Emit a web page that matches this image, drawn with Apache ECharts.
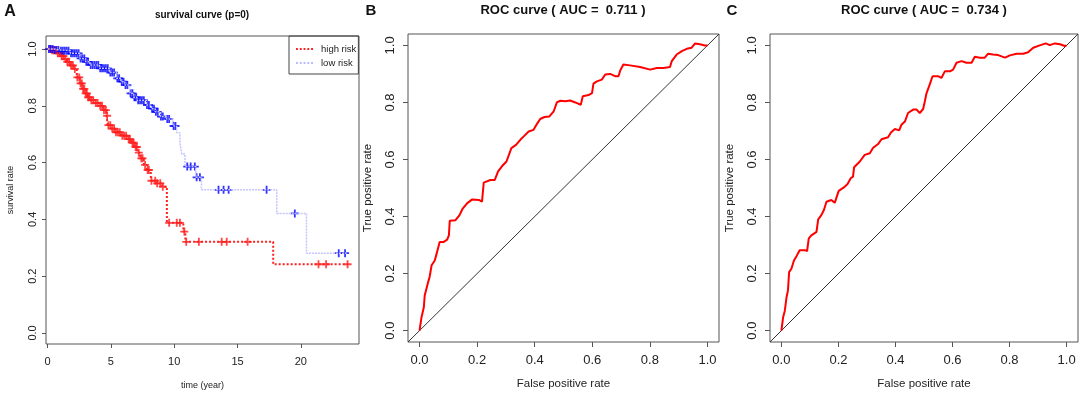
<!DOCTYPE html>
<html>
<head>
<meta charset="utf-8">
<script src="https://cdn.jsdelivr.net/npm/echarts@6/dist/echarts.min.js"></script>
<style>
html, body { margin: 0; padding: 0; background: #fff; }
#main { width: 1084px; height: 398px; }
</style>
</head>
<body>
<div id="main"></div>
<script>
// 生存曲线 - high risk (KM 阶梯点: 时间 / 生存率)
var highT = [0, 0.3, 0.7, 1.0, 1.3, 1.5, 1.8, 2.1, 2.3, 2.55, 2.75, 2.95, 3.15, 3.35, 3.7, 4.1, 4.4, 4.65, 4.75, 5.0, 5.3, 5.8, 6.3, 6.6, 6.85, 7.1, 7.3, 7.6, 7.85, 8.15, 8.6, 9.05, 9.42, 10.72, 10.88, 17.82, 23.74];
var highS = [1, 0.996, 0.985, 0.975, 0.965, 0.955, 0.942, 0.93, 0.9, 0.879, 0.86, 0.844, 0.83, 0.82, 0.81, 0.8, 0.785, 0.765, 0.732, 0.72, 0.707, 0.695, 0.683, 0.67, 0.655, 0.635, 0.615, 0.592, 0.574, 0.536, 0.527, 0.515, 0.388, 0.357, 0.321, 0.242, 0.242];
// 删失点 high risk
var highCensT = [0.2, 0.35, 0.5, 0.65, 0.8, 0.95, 1.1, 1.25, 1.4, 1.55, 1.7, 1.85, 2.0, 2.15, 2.35, 2.5, 2.6, 2.7, 2.8, 2.9, 3.0, 3.1, 3.2, 3.3, 3.45, 3.6, 3.8, 3.95, 4.15, 4.3, 4.45, 4.6, 4.7, 4.8, 4.95, 5.1, 5.25, 5.4, 5.55, 5.7, 5.9, 6.05, 6.2, 6.4, 6.5, 6.7, 6.8, 6.95, 7.05, 7.2, 7.4, 7.5, 7.7, 7.9, 8.0, 8.2, 8.5, 8.65, 8.9, 9.1, 9.6, 10.2, 10.45, 10.8, 10.95, 11.95, 13.75, 14.15, 15.8, 21.4, 22.0, 23.7];
var highCensS = [1, 0.996, 0.996, 0.996, 0.985, 0.985, 0.975, 0.975, 0.965, 0.955, 0.955, 0.942, 0.942, 0.93, 0.9, 0.9, 0.879, 0.879, 0.86, 0.86, 0.844, 0.844, 0.83, 0.83, 0.82, 0.82, 0.81, 0.81, 0.8, 0.8, 0.785, 0.785, 0.765, 0.732, 0.732, 0.72, 0.72, 0.707, 0.707, 0.707, 0.695, 0.695, 0.695, 0.683, 0.683, 0.67, 0.67, 0.655, 0.655, 0.635, 0.615, 0.615, 0.592, 0.574, 0.574, 0.536, 0.536, 0.527, 0.527, 0.515, 0.388, 0.388, 0.388, 0.357, 0.321, 0.321, 0.321, 0.321, 0.321, 0.242, 0.242, 0.242];

// 生存曲线 - low risk
var lowT = [0, 0.5, 1.0, 1.8, 2.55, 3.0, 3.35, 4.1, 4.9, 5.45, 5.8, 6.1, 6.5, 6.8, 7.05, 7.8, 8.2, 8.5, 8.9, 9.4, 9.9, 10.2, 10.45, 10.6, 10.85, 11.7, 12.15, 18.1, 20.45, 23.62];
var lowS = [1, 0.997, 0.994, 0.985, 0.967, 0.955, 0.944, 0.932, 0.917, 0.897, 0.885, 0.873, 0.844, 0.83, 0.82, 0.803, 0.79, 0.779, 0.762, 0.754, 0.729, 0.705, 0.668, 0.63, 0.586, 0.548, 0.504, 0.421, 0.281, 0.281];
// 删失点 low risk
var lowCensT = [0.1, 0.25, 0.4, 0.55, 0.7, 0.85, 1.05, 1.2, 1.35, 1.5, 1.65, 1.85, 2.0, 2.15, 2.3, 2.45, 2.6, 2.75, 2.9, 3.05, 3.2, 3.4, 3.55, 3.7, 3.85, 4.0, 4.15, 4.3, 4.45, 4.6, 4.75, 4.95, 5.1, 5.25, 5.5, 5.65, 5.85, 6.0, 6.15, 6.3, 6.55, 6.7, 6.85, 7.0, 7.15, 7.3, 7.45, 7.6, 7.85, 8.0, 8.25, 8.4, 8.55, 8.7, 8.95, 9.1, 9.45, 9.6, 9.95, 10.1, 11.03, 11.3, 11.63, 11.77, 12.03, 13.5, 13.9, 14.3, 17.3, 19.53, 23.0, 23.5];
var lowCensS = [1, 1, 1, 0.997, 0.997, 0.997, 0.994, 0.994, 0.994, 0.994, 0.994, 0.985, 0.985, 0.985, 0.985, 0.985, 0.967, 0.967, 0.967, 0.955, 0.955, 0.944, 0.944, 0.944, 0.944, 0.944, 0.932, 0.932, 0.932, 0.932, 0.932, 0.917, 0.917, 0.917, 0.897, 0.897, 0.885, 0.885, 0.873, 0.873, 0.844, 0.844, 0.83, 0.83, 0.82, 0.82, 0.82, 0.82, 0.803, 0.803, 0.79, 0.79, 0.779, 0.779, 0.762, 0.762, 0.754, 0.754, 0.729, 0.729, 0.586, 0.586, 0.586, 0.548, 0.548, 0.504, 0.504, 0.504, 0.504, 0.421, 0.281, 0.281];

// ROC B
var fprB = [0, 0.007, 0.015, 0.018, 0.024, 0.03, 0.035, 0.042, 0.053, 0.061, 0.07, 0.084, 0.096, 0.102, 0.105, 0.125, 0.139, 0.15, 0.165, 0.183, 0.206, 0.217, 0.223, 0.246, 0.261, 0.273, 0.287, 0.302, 0.319, 0.335, 0.35, 0.362, 0.379, 0.396, 0.408, 0.419, 0.434, 0.451, 0.466, 0.477, 0.489, 0.506, 0.523, 0.541, 0.56, 0.567, 0.587, 0.599, 0.604, 0.616, 0.633, 0.645, 0.662, 0.679, 0.691, 0.697, 0.708, 0.731, 0.766, 0.801, 0.824, 0.847, 0.87, 0.876, 0.893, 0.911, 0.928, 0.945, 0.957, 0.974, 0.991, 1.0];
var tprB = [0, 0.047, 0.082, 0.123, 0.129, 0.17, 0.188, 0.229, 0.246, 0.276, 0.311, 0.311, 0.319, 0.334, 0.385, 0.387, 0.405, 0.428, 0.446, 0.46, 0.458, 0.452, 0.519, 0.528, 0.528, 0.558, 0.577, 0.593, 0.64, 0.651, 0.669, 0.681, 0.698, 0.704, 0.725, 0.742, 0.749, 0.751, 0.769, 0.8, 0.806, 0.804, 0.807, 0.8, 0.792, 0.822, 0.826, 0.833, 0.866, 0.874, 0.88, 0.898, 0.9, 0.892, 0.892, 0.912, 0.933, 0.93, 0.924, 0.915, 0.921, 0.921, 0.924, 0.945, 0.968, 0.98, 0.988, 0.992, 1.007, 1.004, 1.0, 1.0];

// ROC C
var fprC = [0, 0.006, 0.012, 0.018, 0.023, 0.027, 0.035, 0.044, 0.053, 0.064, 0.082, 0.09, 0.096, 0.105, 0.123, 0.129, 0.14, 0.149, 0.158, 0.175, 0.187, 0.196, 0.201, 0.219, 0.232, 0.243, 0.251, 0.255, 0.275, 0.292, 0.31, 0.321, 0.339, 0.351, 0.374, 0.384, 0.398, 0.413, 0.421, 0.433, 0.444, 0.462, 0.474, 0.485, 0.497, 0.503, 0.509, 0.518, 0.53, 0.549, 0.561, 0.573, 0.591, 0.602, 0.614, 0.632, 0.649, 0.667, 0.678, 0.696, 0.713, 0.725, 0.742, 0.76, 0.784, 0.801, 0.825, 0.848, 0.865, 0.883, 0.906, 0.927, 0.941, 0.959, 0.977, 0.994, 1.0];
var tprC = [0, 0.047, 0.07, 0.117, 0.141, 0.205, 0.217, 0.246, 0.261, 0.282, 0.282, 0.279, 0.323, 0.334, 0.346, 0.39, 0.405, 0.423, 0.452, 0.458, 0.448, 0.475, 0.49, 0.502, 0.514, 0.534, 0.54, 0.573, 0.593, 0.616, 0.622, 0.64, 0.654, 0.671, 0.678, 0.695, 0.707, 0.702, 0.722, 0.733, 0.763, 0.775, 0.775, 0.763, 0.777, 0.804, 0.833, 0.857, 0.892, 0.892, 0.886, 0.909, 0.909, 0.915, 0.939, 0.945, 0.939, 0.939, 0.96, 0.957, 0.957, 0.971, 0.968, 0.966, 0.957, 0.965, 0.971, 0.971, 0.976, 0.992, 1.0, 1.007, 1.001, 1.007, 1.004, 0.998, 1.0];

// 对角线
var diagX = [-0.04, 1.04];
var diagY = [-0.04, 1.04];

// 刻度
var survTicks = [0, 5, 10, 15, 20];
var rateTicks = [0, 0.2, 0.4, 0.6, 0.8, 1.0];

var font = "'Liberation Sans', Arial, sans-serif";
var plus = "path://M0,5L10,5M5,0L5,10";
// 图例里的点线
var dotIcon = "path://M0,0H2V2H0ZM4,0H6V2H4ZM8,0H10V2H8ZM12,0H14V2H12ZM16,0H18V2H16Z";

function pairs(xs, ys) {
  return xs.map(function (x, i) { return [x, ys[i]]; });
}

function axis(gi, min, max, ticks, fmt, size, margin, rotate, name, nameSize, nameGap, tickLen) {
  return {
    gridIndex: gi,
    type: "value",
    min: min,
    max: max,
    splitLine: { show: false },
    axisLine: { show: false, onZero: false },
    axisTick: {
      show: true,
      inside: false,
      length: tickLen,
      customValues: ticks,
      lineStyle: { color: "#555", width: 1 },
    },
    axisLabel: {
      customValues: ticks,
      rotate: rotate,
      margin: margin,
      fontSize: size,
      fontFamily: font,
      color: "#222",
      formatter: fmt,
    },
    name: name,
    nameLocation: "middle",
    nameGap: nameGap,
    nameTextStyle: { fontSize: nameSize, fontFamily: font, color: "#222" },
  };
}

function f1(v) { return v.toFixed(1); }
function f0(v) { return String(v); }

function title(text, left, top, size) {
  return {
    text: text, left: left, top: top, padding: 0, textAlign: "center",
    textStyle: { fontFamily: font, color: "#111", fontWeight: "bold", fontSize: size },
  };
}

var myChart = echarts.init(document.getElementById("main"));

var option = {
  backgroundColor: "#fff",
  animation: false,
  title: [
    title("A", 10, 4, 16),
    title("survival curve (p=0)", 202, 10, 10),
    title("B", 371, 3, 15),
    title("ROC curve ( AUC =  0.711 )", 563, 4, 13),
    title("C", 732, 3, 15),
    title("ROC curve ( AUC =  0.734 )", 924, 4, 13),
  ],
  legend: {
    data: [
      { name: "high risk", icon: dotIcon },
      { name: "low risk", icon: dotIcon },
    ],
    orient: "vertical",
    left: 289,
    top: 36,
    padding: [8, 2, 6, 7],
    itemGap: 4,
    itemWidth: 17,
    itemHeight: 2,
    borderColor: "#444",
    borderWidth: 1,
    textStyle: { fontSize: 9.5, fontFamily: font, color: "#222", padding: [0, 0, 0, 3] },
  },
  grid: [
    { left: 46, top: 36, width: 313, height: 308, show: true, borderColor: "#555", borderWidth: 1 },
    { left: 408, top: 34, width: 311, height: 308, show: true, borderColor: "#555", borderWidth: 1 },
    { left: 770, top: 34, width: 308, height: 308, show: true, borderColor: "#555", borderWidth: 1 },
  ],
  xAxis: [
    axis(0, -0.13, 24.6, survTicks, f0, 11, 12, 0, "time (year)", 9, 37, 4),
    axis(1, -0.04, 1.04, rateTicks, f1, 13, 12, 0, "False positive rate", 11.5, 36, 5),
    axis(2, -0.04, 1.04, rateTicks, f1, 13, 12, 0, "False positive rate", 11.5, 36, 5),
  ],
  yAxis: [
    axis(0, -0.039, 1.046, rateTicks, f1, 11, 8, 90, "survival rate", 9, 31, 4),
    axis(1, -0.04, 1.04, rateTicks, f1, 13, 11, 90, "True positive rate", 11.5, 34, 5),
    axis(2, -0.04, 1.04, rateTicks, f1, 13, 11, 90, "True positive rate", 11.5, 34, 5),
  ],
  series: [
    {
      name: "high risk",
      type: "line",
      step: "end",
      xAxisIndex: 0,
      yAxisIndex: 0,
      symbol: "none",
      data: pairs(highT, highS),
      lineStyle: { color: "#ff2020", width: 2, type: [2, 2] },
      itemStyle: { color: "#ff2020" },
    },
    {
      name: "low risk",
      type: "line",
      step: "end",
      xAxisIndex: 0,
      yAxisIndex: 0,
      symbol: "none",
      data: pairs(lowT, lowS),
      lineStyle: { color: "#c4c4ff", width: 1.5, type: [2, 1] },
      itemStyle: { color: "#b8b8ff" },
    },
    {
      type: "scatter",
      xAxisIndex: 0,
      yAxisIndex: 0,
      symbol: plus,
      symbolSize: 8,
      data: pairs(highCensT, highCensS),
      itemStyle: { color: "#ff1a1a", borderColor: "#ff1a1a", borderWidth: 1.8 },
    },
    {
      type: "scatter",
      xAxisIndex: 0,
      yAxisIndex: 0,
      symbol: plus,
      symbolSize: 8,
      data: pairs(lowCensT, lowCensS),
      itemStyle: { color: "#0000ff", borderColor: "#0000ff", borderWidth: 1.8 },
    },
    {
      type: "line",
      xAxisIndex: 1,
      yAxisIndex: 1,
      symbol: "none",
      data: pairs(diagX, diagY),
      lineStyle: { color: "#333", width: 1 },
    },
    {
      type: "line",
      xAxisIndex: 1,
      yAxisIndex: 1,
      symbol: "none",
      data: pairs(fprB, tprB),
      lineStyle: { color: "#ff0000", width: 2 },
    },
    {
      type: "line",
      xAxisIndex: 2,
      yAxisIndex: 2,
      symbol: "none",
      data: pairs(diagX, diagY),
      lineStyle: { color: "#333", width: 1 },
    },
    {
      type: "line",
      xAxisIndex: 2,
      yAxisIndex: 2,
      symbol: "none",
      data: pairs(fprC, tprC),
      lineStyle: { color: "#ff0000", width: 2 },
    },
  ],
};

myChart.setOption(option);
</script>
</body>
</html>
